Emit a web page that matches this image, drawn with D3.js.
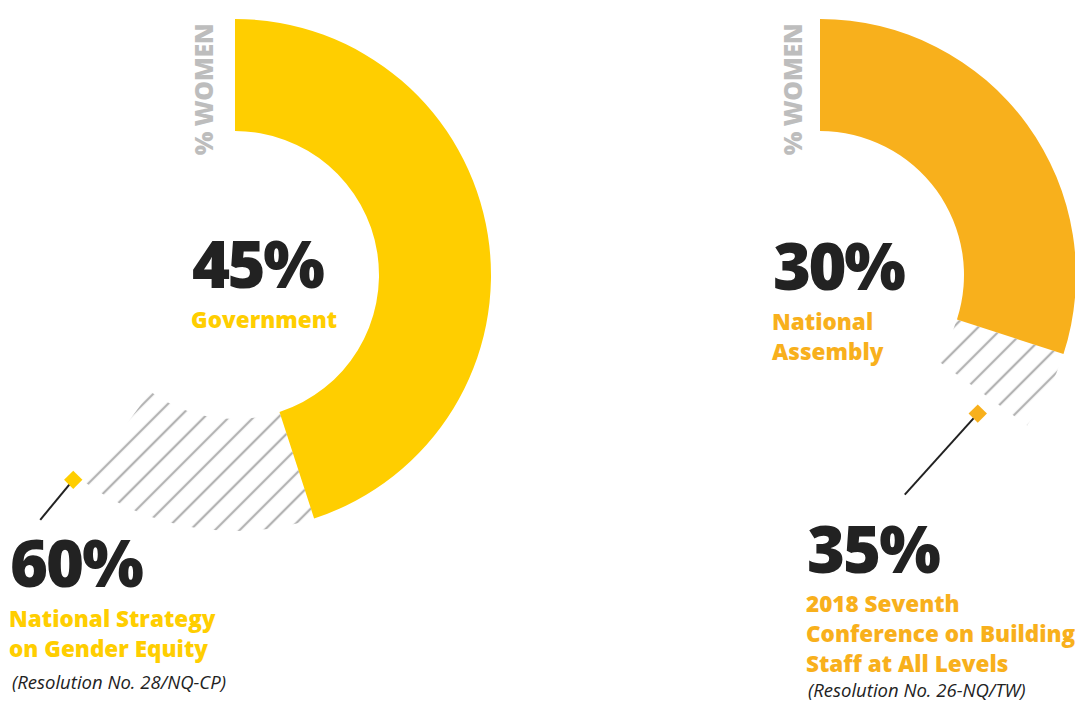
<!DOCTYPE html>
<html>
<head>
<meta charset="utf-8">
<script src="https://cdn.jsdelivr.net/npm/d3@7"></script>
<style>
  html, body { margin: 0; padding: 0; background: #fff; }
  svg { display: block; font-family: "Open Sans", "Noto Sans", sans-serif; }
</style>
</head>
<body>
<svg id="chart" width="1075" height="702"></svg>
<script>
// Share of women: current level and the adopted target, per body
const bodies = ["Government", "National Assembly"];
const currentShare = [45, 30];
const targetShare = [60, 35];
const currentLabelLines = [["Government"], ["National", "Assembly"]];
const targetLabelLines = [
  ["National Strategy", "on Gender Equity"],
  ["2018 Seventh", "Conference on Building", "Staff at All Levels"]
];
const targetSources = ["(Resolution No. 28/NQ-CP)", "(Resolution No. 26-NQ/TW)"];
const axisTitle = "% WOMEN";

// Styling / layout
const colors = ["#FFCE00", "#F8B01C"];
const ink = "#222222";
const hatchColor = "#B3B3B3";
const outerR = 256, innerR = 144;
const layout = [
  { cx: 235, cy: 275, titleX: 213, curX: 192, curY: 288, tgtX: 10, tgtY: 587, tgtLine0: 627, srcY: 689, srcX: 12,
    markR: 261, markPad: 2.3, lead: [-33, 40] },
  { cx: 820, cy: 275, titleX: 802, curX: 773, curY: 290, tgtX: 807, tgtY: 573, tgtLine0: 612, srcY: 697, srcX: 808,
    markR: 210, markPad: 5.3, lead: [-73, 81] }
];

const svg = d3.select("#chart");
const angle = d3.scaleLinear().domain([0, 100]).range([0, 2 * Math.PI]);
const arc = d3.arc().innerRadius(innerR).outerRadius(outerR);

// diagonal hatch used for the gap between current share and target
const defs = svg.append("defs");
defs.append("pattern")
  .attr("id", "hatch")
  .attr("patternUnits", "userSpaceOnUse")
  .attr("width", 17.5)
  .attr("height", 17.5)
  .attr("patternTransform", "rotate(45)")
  .append("line")
  .attr("x1", 8.75).attr("y1", -2)
  .attr("x2", 8.75).attr("y2", 20)
  .attr("stroke", hatchColor)
  .attr("stroke-width", 2.3);

bodies.forEach((name, i) => {
  const L = layout[i];
  const g = svg.append("g").attr("transform", `translate(${L.cx},${L.cy})`);

  // gap to target
  g.append("path")
    .attr("d", arc({ startAngle: angle(currentShare[i]), endAngle: angle(targetShare[i]) }))
    .attr("fill", "url(#hatch)");

  // current share
  g.append("path")
    .attr("d", arc({ startAngle: angle(0), endAngle: angle(currentShare[i]) }))
    .attr("fill", colors[i]);

  // target marker + leader line
  const a = angle(targetShare[i]) + L.markPad * Math.PI / 180;
  const mx = L.markR * Math.sin(a), my = -L.markR * Math.cos(a);
  g.append("line")
    .attr("x1", mx).attr("y1", my)
    .attr("x2", mx + L.lead[0]).attr("y2", my + L.lead[1])
    .attr("stroke", ink).attr("stroke-width", 2);
  g.append("rect")
    .attr("x", -6.5).attr("y", -6.5).attr("width", 13).attr("height", 13)
    .attr("transform", `translate(${mx},${my}) rotate(45)`)
    .attr("fill", colors[i]);

  // vertical axis title
  svg.append("text")
    .attr("transform", `translate(${L.titleX},${L.cy - outerR + 5}) rotate(-90)`)
    .attr("text-anchor", "end")
    .attr("font-size", 25)
    .attr("font-weight", 800)
    .attr("letter-spacing", -0.5)
    .attr("fill", "#BDBDBD")
    .text(axisTitle);

  // current value
  svg.append("text")
    .attr("x", L.curX).attr("y", L.curY)
    .attr("font-size", 65).attr("font-weight", 800)
    .attr("fill", ink)
    .attr("letter-spacing", -2.5)
    .text(d3.format("d")(currentShare[i]) + "%");
  currentLabelLines[i].forEach((t, k) => {
    svg.append("text")
      .attr("x", L.curX - 1).attr("y", L.curY + 40 + k * 30)
      .attr("font-size", 22.5).attr("font-weight", 800)
      .attr("fill", colors[i])
      .text(t);
  });

  // target value
  svg.append("text")
    .attr("x", L.tgtX).attr("y", L.tgtY)
    .attr("font-size", 65).attr("font-weight", 800)
    .attr("fill", ink)
    .attr("letter-spacing", -2)
    .text(d3.format("d")(targetShare[i]) + "%");
  targetLabelLines[i].forEach((t, k) => {
    svg.append("text")
      .attr("x", L.tgtX - 1).attr("y", L.tgtLine0 + k * 30)
      .attr("font-size", 22.5).attr("font-weight", 800)
      .attr("fill", colors[i])
      .text(t);
  });
  svg.append("text")
    .attr("x", L.srcX).attr("y", L.srcY)
    .attr("font-size", 18.5).attr("font-style", "italic")
    .attr("fill", ink)
    .text(targetSources[i]);
});
</script>
</body>
</html>
